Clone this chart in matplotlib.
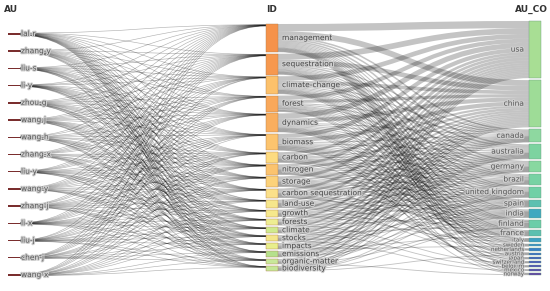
import numpy as np
import matplotlib
matplotlib.use('Agg')
import matplotlib.pyplot as plt
from matplotlib.path import Path
from matplotlib.patches import PathPatch, Rectangle
import matplotlib.patheffects as pe

# ---- data ----
authors = ['lal-r', 'zhang-y', 'liu-s', 'li-y', 'zhou-g', 'wang-j', 'wang-h', 'zhang-x',
           'liu-y', 'wang-y', 'zhang-j', 'li-x', 'liu-j', 'chen-j', 'wang-x']

keywords = ['management', 'sequestration', 'climate-change', 'forest', 'dynamics', 'biomass',
            'carbon', 'nitrogen', 'storage', 'carbon sequestration', 'land-use', 'growth',
            'forests', 'climate', 'stocks', 'impacts', 'emissions', 'organic-matter',
            'biodiversity']

countries = ['usa', 'china', 'canada', 'australia', 'germany', 'brazil', 'united kingdom',
             'spain', 'india', 'finland', 'france', 'italy', 'sweden', 'netherlands',
             'austria', 'japan', 'switzerland', 'belgium', 'mexico', 'norway']

# author -> keyword links
au_id = np.array([
    [2, 2, 1, 1, 1, 1, 2, 1, 2, 2, 1, 1, 1, 1, 1, 1, 1, 2, 1],
    [1, 1, 1, 1, 1, 1, 1, 1, 1, 1, 1, 1, 0, 1, 0, 1, 1, 0, 1],
    [1, 1, 1, 1, 1, 1, 1, 1, 1, 1, 0, 1, 1, 1, 1, 0, 1, 1, 0],
    [1, 1, 1, 0, 1, 1, 1, 1, 1, 1, 1, 1, 1, 0, 1, 1, 1, 0, 1],
    [1, 2, 1, 1, 1, 1, 1, 1, 1, 1, 1, 0, 1, 1, 1, 1, 0, 1, 1],
    [1, 1, 1, 1, 1, 1, 0, 1, 1, 1, 1, 1, 1, 1, 0, 1, 1, 1, 0],
    [1, 1, 0, 1, 1, 1, 1, 1, 0, 1, 1, 1, 1, 1, 1, 0, 1, 1, 1],
    [1, 1, 1, 1, 1, 0, 1, 1, 1, 0, 1, 1, 0, 1, 1, 1, 1, 0, 1],
    [1, 1, 1, 1, 0, 1, 1, 1, 1, 1, 1, 0, 1, 1, 1, 1, 0, 1, 1],
    [1, 1, 1, 1, 1, 1, 1, 0, 1, 1, 0, 1, 1, 0, 1, 1, 1, 1, 0],
    [1, 1, 1, 0, 1, 1, 1, 1, 1, 1, 1, 1, 0, 1, 1, 0, 1, 1, 1],
    [1, 1, 1, 1, 1, 1, 0, 1, 1, 1, 1, 1, 1, 1, 0, 1, 1, 0, 1],
    [1, 1, 0, 1, 1, 1, 1, 1, 0, 1, 1, 0, 1, 1, 1, 1, 0, 1, 1],
    [1, 1, 1, 1, 1, 0, 1, 1, 1, 1, 0, 1, 1, 0, 1, 1, 1, 1, 0],
    [1, 1, 1, 1, 0, 1, 1, 1, 1, 0, 1, 1, 1, 1, 1, 0, 1, 1, 1],
])

# keyword -> country links (half-count units)
id_co = np.array([
    [14, 11, 3, 3, 3, 2, 2, 2, 2, 2, 2, 1, 1, 1, 1, 1, 1, 1, 0, 1],
    [11, 9, 2, 3, 2, 2, 2, 1, 2, 1, 1, 1, 0, 1, 0, 1, 0, 1, 0, 0],
    [9, 7, 2, 2, 2, 2, 2, 1, 1, 1, 1, 1, 1, 0, 1, 0, 0, 0, 1, 0],
    [8, 6, 2, 2, 2, 1, 2, 1, 1, 2, 1, 0, 0, 1, 0, 0, 1, 0, 0, 1],
    [10, 8, 2, 2, 2, 2, 2, 1, 1, 1, 1, 1, 1, 0, 0, 1, 0, 0, 1, 0],
    [8, 8, 2, 2, 1, 2, 1, 1, 1, 1, 1, 1, 0, 0, 1, 0, 0, 1, 0, 1],
    [5, 4, 1, 2, 1, 1, 1, 1, 1, 1, 1, 0, 0, 0, 0, 0, 1, 0, 0, 0],
    [5, 5, 1, 1, 1, 1, 1, 1, 1, 1, 1, 1, 0, 0, 0, 0, 0, 0, 0, 0],
    [6, 4, 1, 1, 1, 1, 1, 1, 1, 1, 1, 0, 0, 0, 0, 1, 0, 0, 0, 0],
    [5, 4, 1, 1, 1, 1, 1, 0, 1, 1, 0, 0, 1, 1, 0, 0, 0, 0, 0, 0],
    [4, 3, 1, 1, 1, 1, 1, 1, 1, 0, 1, 0, 0, 0, 1, 0, 0, 0, 0, 0],
    [4, 3, 1, 1, 1, 0, 1, 1, 0, 1, 0, 1, 0, 0, 0, 0, 0, 0, 0, 0],
    [4, 3, 1, 1, 1, 1, 0, 0, 1, 0, 0, 0, 0, 0, 0, 0, 1, 0, 0, 0],
    [3, 3, 1, 1, 1, 0, 1, 0, 0, 1, 0, 0, 0, 0, 0, 0, 0, 1, 0, 0],
    [3, 3, 1, 1, 0, 1, 0, 1, 1, 0, 0, 0, 0, 0, 0, 0, 0, 0, 1, 0],
    [3, 3, 1, 1, 1, 0, 1, 0, 0, 0, 1, 0, 1, 0, 0, 0, 0, 0, 0, 0],
    [3, 3, 1, 1, 1, 1, 0, 1, 1, 0, 0, 0, 0, 0, 0, 0, 0, 0, 0, 0],
    [3, 2, 0, 1, 0, 1, 1, 0, 0, 1, 0, 0, 0, 0, 0, 0, 0, 0, 0, 1],
    [2, 2, 1, 1, 0, 0, 1, 1, 0, 1, 0, 0, 0, 0, 1, 0, 0, 0, 0, 0],
])

kw_colors = ['#f5924a', '#f6984e', '#fcc16b', '#f9a85a', '#f9ae5e', '#fcc46e', '#fddb80',
             '#fbc36e', '#fcd27a', '#fbe08a', '#f5e68c', '#f6e88c', '#eeee92', '#cfea8e',
             '#f3e68a', '#e8ee8c', '#b5e08c', '#c8e89a', '#c5e797']
co_colors = ['#a8de94', '#9edc97', '#8ed8a0', '#7dd3a0', '#88d8a0', '#78d2a4', '#70d0a6',
             '#5cc0b0', '#40a8c0', '#6ccda8', '#5cc0b0', '#3fa0c4', '#3c92c8', '#3a80c8',
             '#3a70c8', '#3f60c0', '#4858c0', '#5050b8', '#5848b0', '#6040a8']

# ---- layout ----
W, H = 550, 291
fig = plt.figure(figsize=(5.5, 2.91), dpi=100)
ax = fig.add_axes([0, 0, 1, 1])
ax.set_xlim(0, W)
ax.set_ylim(H, 0)
ax.axis('off')
PT = 72 / 100  # points per pixel

NW = 12
x_au, x_id, x_co = 8, 266, 529

co_val = id_co.sum(0)
kw_val = id_co.sum(1)
pad_co = 2.0
ky = (275 - 21 - pad_co * (len(countries) - 1)) / co_val.sum()
co_h = co_val * ky
co_y = 21 + np.concatenate([[0], np.cumsum(co_h[:-1] + pad_co)])
kw_h = kw_val * ky
pad_id = (271 - 24 - kw_h.sum()) / (len(keywords) - 1)
kw_y = 24 + np.concatenate([[0], np.cumsum(kw_h[:-1] + pad_id)])

ky_au = 0.09
au_h = au_id.sum(1) * ky_au
au_c = np.linspace(34, 275, len(authors))
au_y = au_c - au_h / 2


def link(x0, y0, x1, y1, lw, color, alpha):
    xm = (x0 + x1) / 2
    p = Path([(x0, y0), (xm, y0), (xm, y1), (x1, y1)],
             [Path.MOVETO, Path.CURVE4, Path.CURVE4, Path.CURVE4])
    ax.add_patch(PathPatch(p, fc='none', ec=color, lw=lw, alpha=alpha, capstyle='butt'))


# author -> keyword
kw_in = kw_y.copy()
for i in range(len(authors)):
    off = au_y[i]
    for j in range(len(keywords)):
        v = au_id[i, j]
        if v == 0:
            continue
        dy = v * ky_au
        link(x_au + NW, off + dy / 2, x_id, kw_in[j] + dy / 2 + 0.6, 0.45, 'black', 0.3)
        off += dy
        kw_in[j] += dy

# keyword -> country
co_in = co_y.copy()
for i in range(len(keywords)):
    off = kw_y[i]
    for j in range(len(countries)):
        v = id_co[i, j]
        if v == 0:
            continue
        dy = v * ky
        link(x_id + NW, off + dy / 2, x_co, co_in[j] + dy / 2, max(dy, 0.9) * PT, 'black', 0.23)
        off += dy
        co_in[j] += dy

# nodes
for i in range(len(authors)):
    ax.add_patch(Rectangle((x_au, au_y[i]), NW, max(au_h[i], 1.0), fc='#7a2e2e', ec='none'))
for i, c in enumerate(kw_colors):
    ax.add_patch(Rectangle((x_id, kw_y[i]), NW, kw_h[i], fc=c, ec='#b08050', lw=0.3))
for i, c in enumerate(co_colors):
    ax.add_patch(Rectangle((x_co, co_y[i]), NW, co_h[i], fc=c, ec='#6a9a80', lw=0.3))

# labels
halo = [pe.withStroke(linewidth=1.6, foreground='#cfcfcf')]
fs = 5.4
for i, a in enumerate(authors):
    ax.text(x_au + NW + 1, au_c[i], a, fontsize=fs, va='center', ha='left',
            color='#555555', path_effects=halo)
for i, k in enumerate(keywords):
    ax.text(x_id + NW + 4, kw_y[i] + kw_h[i] / 2, k, fontsize=fs, va='center', ha='left',
            color='#444444', path_effects=halo)
for i, c in enumerate(countries):
    small = co_h[i] < 4
    ax.text(x_co - 5, co_y[i] + co_h[i] / 2, c, fontsize=4.0 if small else fs,
            va='center', ha='right', color='#555555',
            path_effects=[pe.withStroke(linewidth=1.2 if small else 1.6, foreground='#cfcfcf')])

ax.text(4, 9, 'AU', fontsize=6.5, fontweight='bold', color='#333333', va='center')
ax.text(x_id, 9, 'ID', fontsize=6.5, fontweight='bold', color='#333333', va='center')
ax.text(548, 9, 'AU_CO', fontsize=6.5, fontweight='bold', color='#333333', va='center', ha='right')

fig.savefig('out.png', dpi=100)
